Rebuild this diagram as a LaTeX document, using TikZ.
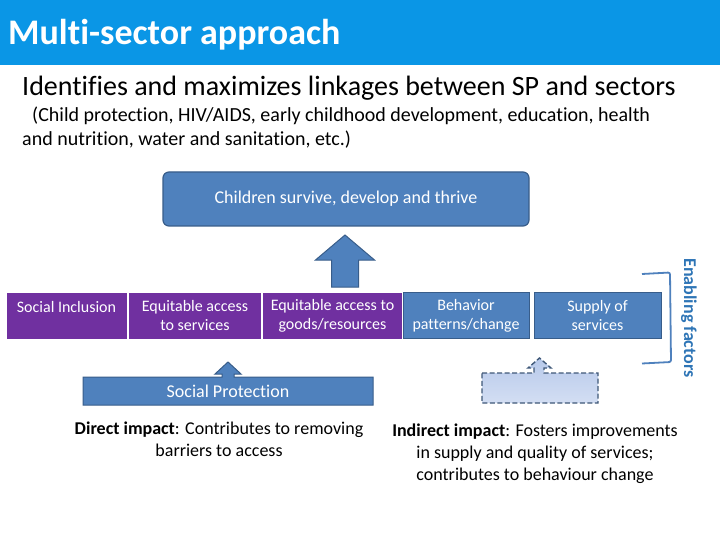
\documentclass[tikz,border=0pt]{standalone}
\usepackage{fontspec}
\setmainfont[Ligatures=NoCommon]{Carlito}
\definecolor{titlebar}{HTML}{0A96E6}
\definecolor{boxblue}{HTML}{4F81BD}
\definecolor{boxedge}{HTML}{385D8A}
\definecolor{purp}{HTML}{7030A0}
\definecolor{enab}{HTML}{2E75B6}
\definecolor{dashtop}{HTML}{B7C9EA}
\definecolor{dashbot}{HTML}{D3DEF3}
\definecolor{dashedge}{HTML}{3F5878}
\begin{document}
\begin{tikzpicture}[x=1pt,y=-1pt,
  rowtext/.style={text=white,font=\fontsize{16}{19}\selectfont,align=center,inner sep=0pt},
  purbox/.style={fill=purp,draw=white,line width=0.8pt},
  bluebox/.style={fill=boxblue,draw=boxedge,line width=0.8pt},
  bodytext/.style={font=\fontsize{18}{22}\selectfont,align=center,inner sep=0pt}]
\useasboundingbox (0,0) rectangle (720,540);
\fill[white] (0,0) rectangle (720,540);
% title bar
\fill[titlebar] (0,0) rectangle (720,65);
\node[anchor=base west,text=white,font=\fontsize{36}{40}\selectfont\bfseries,inner sep=0pt] (title) at (8,45) {Multi-sector approach};
\node[anchor=base west,font=\fontsize{28}{32}\selectfont,inner sep=0pt] (sub) at (22,96) {Identifies and maximizes linkages between SP and sectors};
\node[anchor=base west,font=\fontsize{20}{24}\selectfont,inner sep=0pt] (sub2) at (32,122) {(Child protection, HIV/AIDS, early childhood development, education, health};
\node[anchor=base west,font=\fontsize{20}{24}\selectfont,inner sep=0pt] (sub3) at (22,146) {and nutrition, water and sanitation, etc.)};
% top goal box
\draw[fill=boxblue,draw=boxedge,line width=1.2pt,rounded corners=6pt] (163,172) rectangle (529,226);
\node[text=white,font=\fontsize{18}{20}\selectfont,inner sep=0pt] (goal) at (346,199) {Children survive, develop and thrive};
% big arrow
\draw[fill=boxblue,draw=boxedge,line width=1pt,line join=miter]
  (345,235) -- (374.5,260) -- (358.5,260) -- (358.5,287) -- (331.5,287) -- (331.5,260) -- (315.5,260) -- cycle;
% row boxes
\draw[purbox] (6,292.5) rectangle (127.5,339.5);
\node[rowtext] (si) at (66.5,307) {Social Inclusion};
\draw[purbox] (128.5,292.5) rectangle (261.5,339.5);
\node[rowtext] (eas) at (195,316) {Equitable access\\to services};
\draw[purbox] (262.5,292.5) rectangle (402,339.5);
\node[rowtext] (eag) at (332.5,316) {Equitable access to\\goods/resources};
\draw[bluebox] (403,292.5) rectangle (529,338.5);
\node[rowtext] (bp) at (466,316) {Behavior\\patterns/change};
\draw[bluebox] (534,292.5) rectangle (661,338.5);
\node[rowtext] (ss) at (597.5,316) {Supply of\\services};
% bracket
\draw[boxblue,line width=1.8pt,rounded corners=2pt] (642,274) -- (670,272.5) -- (671,362) -- (642,363.5);
\node[rotate=-90,text=enab,font=\fontsize{18}{20}\selectfont\bfseries,inner sep=0pt] (ef) at (689,318) {Enabling factors};
% social protection callout
\draw[fill=boxblue,draw=boxedge,line width=1pt,line join=miter]
  (83,377) -- (222,377) -- (222,374) -- (215,374) -- (228,362) -- (241,374) -- (234,374) -- (234,377) -- (373,377) -- (373,405) -- (83,405) -- cycle;
\node[text=white,font=\fontsize{18}{20}\selectfont,inner sep=0pt] (sp) at (228,391) {Social Protection};
% dashed callout
\draw[top color=dashtop,bottom color=dashbot,draw=dashedge,line width=1.4pt,dash pattern=on 5pt off 2.5pt,line join=miter]
  (482,373) -- (534,373) -- (534,368) -- (528,368) -- (539.5,358) -- (551,368) -- (544,368) -- (544,373) -- (598,373) -- (598,403) -- (482,403) -- cycle;
% impact texts
\node[bodytext] (di) at (219,439.5) {\textbf{Direct impact}: Contributes to removing\\barriers to access};
\node[bodytext] (ii) at (535,453.5) {\textbf{Indirect impact}: Fosters improvements\\in supply and quality of services;\\contributes to behaviour change};
\end{tikzpicture}
\end{document}
